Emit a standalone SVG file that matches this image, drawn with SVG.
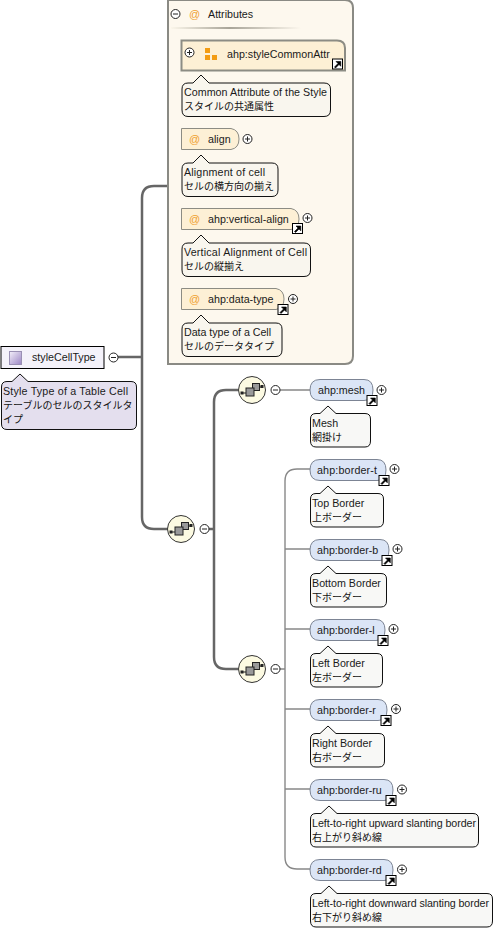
<svg xmlns="http://www.w3.org/2000/svg" width="500" height="931" viewBox="0 0 500 931">
<style>
text{font-family:"Liberation Sans","Noto Sans CJK JP",sans-serif;font-size:10.7px;fill:#1a1a1a}
text.j{font-size:10px;fill:#111}
.c{fill:#f8f8f6;stroke:#111;stroke-width:1}
.ca{fill:#f9f6ee;stroke:#111;stroke-width:1}
.at{fill:#fdf0d5;stroke:#8c8c84;stroke-width:1}
.el{fill:#dbe5f6;stroke:#7c8494;stroke-width:1}
.th{fill:none;stroke:#666;stroke-width:2.5}
.tn{fill:none;stroke:#888;stroke-width:1.4}
.ic{fill:#f39c12}
text.o{font-size:11px;fill:#f0a030}
</style>
<defs>
<linearGradient id="lg" x1="0" y1="0" x2="1" y2="1"><stop offset="0" stop-color="#f4f0fa"/><stop offset="1" stop-color="#9a85c4"/></linearGradient>
<linearGradient id="sep" x1="0" y1="0" x2="1" y2="0"><stop offset="0" stop-color="#fbf6ea"/><stop offset="0.45" stop-color="#a8a498"/><stop offset="1" stop-color="#fdf8ee"/></linearGradient>
<g id="plus"><circle r="4.500" fill="#fff" stroke="#222"/><path d="M-2.500 0H2.500M0 -2.500V2.500" stroke="#222" fill="none"/></g>
<g id="minus"><circle r="4.500" fill="#fff" stroke="#222"/><path d="M-2.500 0H2.500" stroke="#222" fill="none"/></g>
<g id="link"><rect x="0.500" y="0.500" width="10" height="10" fill="#fff" stroke="#000"/><path d="M2.500 8.500L6 5L4 3H8.800V7.800L7 6L3.500 9.500Z" fill="#000" stroke="#000" stroke-width="0.600"/></g>
<g id="seq"><circle r="13.500" fill="#fcfae2" stroke="#333" stroke-width="1"/><path d="M-11 3H-5M3 -3H11" stroke="#222"/><rect x="-11.500" y="1.500" width="3" height="3" fill="#222"/><rect x="8.500" y="-5" width="3" height="3" fill="#222"/><rect x="0.500" y="-6.500" width="7" height="7" fill="#999" stroke="#222"/><rect x="-6" y="-2" width="8" height="8" fill="#999" stroke="#222"/></g>
</defs>

<g id="connectors">
<path class="th" d="M118 357H142M167 186H154Q142 186 142 198V517Q142 529 154 529H168"/>
<path class="th" d="M209 529H213M238 390H226Q214 390 214 402V657Q214 669 226 669H238"/>
<path class="tn" d="M280 390H310M280 669H285M310 469H297Q285 469 285 481V857Q285 869 297 869H310M285 549H310M285 629H310M285 709H310M285 789H310"/>
</g>

<g id="attributes">
<path d="M168 0H345Q353 0 353 8V356Q353 364 345 364H168Z" fill="#fdf8ee" stroke="#8a8a84" stroke-width="2"/>
<use href="#minus" x="175.500" y="14"/>
<text class="o" x="189" y="18">@</text>
<text x="208" y="18">Attributes</text>
<rect x="171" y="27" width="130" height="2" fill="url(#sep)"/>
</g>

<g id="attr-styleCommonAttr">
<path d="M181.500 40.500H337Q345 40.500 345 48V70.500H181.500Z" fill="#fdf0d5" stroke="#8c8c84" stroke-width="2"/>
<use href="#plus" x="189.500" y="52.500"/>
<rect class="ic" x="205" y="48" width="5" height="5"/><rect class="ic" x="205" y="55" width="5" height="5"/><rect class="ic" x="212" y="55" width="5" height="5"/>
<text x="227" y="58">ahp:styleCommonAttr</text>
<use href="#link" x="332" y="58.500"/>
<path class="ca" d="M188 83H193L201 75L209 83H324Q330.500 83 330.500 89V110Q330.500 116.500 324 116.500H188Q182 116.500 182 110V89Q182 83 188 83Z"/>
<text x="184" y="96" textLength="143">Common Attribute of the Style</text>
<text class="j" x="184" y="110">スタイルの共通属性</text>
</g>

<g id="attr-align">
<path class="at" d="M181.500 128.500H231Q239 130 239 139Q239 148 231 149.500H181.500Z"/>
<text class="o" x="189" y="143">@</text>
<text x="208" y="143">align</text>
<use href="#plus" x="247.500" y="139"/>
<path class="ca" d="M188 163H193L201 155L209 163H272Q278 163 278 169V190Q278 196.500 272 196.500H188Q182 196.500 182 190V169Q182 163 188 163Z"/>
<text x="184" y="176" textLength="81">Alignment of cell</text>
<text class="j" x="184" y="190">セルの横方向の揃え</text>
</g>

<g id="attr-vertical-align">
<path class="at" d="M181.500 208.500H291Q299 210 299 219Q299 228 291 229.500H181.500Z"/>
<text class="o" x="189" y="223">@</text>
<text x="208" y="223">ahp:vertical-align</text>
<use href="#link" x="292" y="223"/>
<use href="#plus" x="307.500" y="218"/>
<path class="ca" d="M188 243H193L201 235L209 243H304Q310.500 243 310.500 249V270Q310.500 276.500 304 276.500H188Q182 276.500 182 270V249Q182 243 188 243Z"/>
<text x="184" y="256" textLength="123">Vertical Alignment of Cell</text>
<text class="j" x="184" y="270">セルの縦揃え</text>
</g>

<g id="attr-data-type">
<path class="at" d="M181.500 288.500H276Q284 290 284 299Q284 308 276 309.500H181.500Z"/>
<text class="o" x="189" y="303">@</text>
<text x="208" y="303">ahp:data-type</text>
<use href="#link" x="277.500" y="304"/>
<use href="#plus" x="293" y="299"/>
<path class="ca" d="M188 323H193L201 315L209 323H276Q282 323 282 329V350Q282 356.500 276 356.500H188Q182 356.500 182 350V329Q182 323 188 323Z"/>
<text x="184" y="336" textLength="87">Data type of a Cell</text>
<text class="j" x="184" y="350">セルのデータタイプ</text>
</g>

<g id="styleCellType">
<rect x="1" y="346.500" width="103" height="22" fill="#f4f2fa" stroke="#000"/>
<rect x="9.500" y="351.500" width="12" height="13" fill="url(#lg)" stroke="#9a90b4"/>
<text x="32" y="361">styleCellType</text>
<use href="#minus" x="113.500" y="357.500"/>
<path d="M7 381.500H12L20 374L28 381.500H131Q136.500 381.500 136.500 387V424Q136.500 429.500 131 429.500H7Q1.500 429.500 1.500 424V387Q1.500 381.500 7 381.500Z" fill="#e4dfee" stroke="#111"/>
<text x="3" y="395" textLength="125">Style Type of a Table Cell</text>
<text class="j" x="3" y="409">テーブルのセルのスタイルタ</text>
<text class="j" x="3" y="423">イプ</text>
</g>

<g id="seq-root"><use href="#seq" x="181" y="529"/><use href="#minus" x="204.500" y="529"/></g>
<g id="seq-mesh"><use href="#seq" x="252" y="390"/><use href="#minus" x="275.500" y="390"/></g>
<g id="seq-borders"><use href="#seq" x="252" y="669"/><use href="#minus" x="275.500" y="669"/></g>

<g id="mesh">
<path class="el" d="M320 379.500H364Q373 379.500 373 390Q373 400.500 364 400.500H320Q310 400.500 310 390Q310 379.500 320 379.500Z"/>
<text x="318" y="394">ahp:mesh</text>
<use href="#link" x="366.500" y="395"/>
<use href="#plus" x="381.500" y="390"/>
<path class="c" d="M316 413.500H320L328 406L336 413.500H365Q370.500 413.500 370.500 419V441Q370.500 447 365 447H316Q310.500 447 310.500 441V419Q310.500 413.500 316 413.500Z"/>
<text x="312" y="427">Mesh</text>
<text class="j" x="312" y="441">網掛け</text>
</g>

<g id="border-t">
<path class="el" d="M320 459.500H377Q386 459.500 386 470Q386 480.500 377 480.500H320Q310 480.500 310 470Q310 459.500 320 459.500Z"/>
<text x="317" y="474" textLength="60">ahp:border-t</text>
<use href="#link" x="378.500" y="475"/>
<use href="#plus" x="394.500" y="469"/>
<path class="c" d="M316 493.500H320L328 486L336 493.500H378Q383.500 493.500 383.500 499V521Q383.500 527 378 527H316Q310.500 527 310.500 521V499Q310.500 493.500 316 493.500Z"/>
<text x="312" y="507">Top Border</text>
<text class="j" x="312" y="521">上ボーダー</text>
</g>

<g id="border-b">
<path class="el" d="M320 539.500H380Q389 539.500 389 550Q389 560.500 380 560.500H320Q310 560.500 310 550Q310 539.500 320 539.500Z"/>
<text x="317" y="554">ahp:border-b</text>
<use href="#link" x="381.500" y="555"/>
<use href="#plus" x="397.500" y="549"/>
<path class="c" d="M316 573.500H320L328 566L336 573.500H381Q386.500 573.500 386.500 579V601Q386.500 607 381 607H316Q310.500 607 310.500 601V579Q310.500 573.500 316 573.500Z"/>
<text x="312" y="587">Bottom Border</text>
<text class="j" x="312" y="601">下ボーダー</text>
</g>

<g id="border-l">
<path class="el" d="M320 619.500H376Q385 619.500 385 630Q385 640.500 376 640.500H320Q310 640.500 310 630Q310 619.500 320 619.500Z"/>
<text x="317" y="634">ahp:border-l</text>
<use href="#link" x="377.500" y="635"/>
<use href="#plus" x="393.500" y="629"/>
<path class="c" d="M316 653.500H320L328 646L336 653.500H377Q382.500 653.500 382.500 659V681Q382.500 687 377 687H316Q310.500 687 310.500 681V659Q310.500 653.500 316 653.500Z"/>
<text x="312" y="667">Left Border</text>
<text class="j" x="312" y="681">左ボーダー</text>
</g>

<g id="border-r">
<path class="el" d="M320 699.500H378Q387 699.500 387 710Q387 720.500 378 720.500H320Q310 720.500 310 710Q310 699.500 320 699.500Z"/>
<text x="317" y="714">ahp:border-r</text>
<use href="#link" x="380.500" y="715"/>
<use href="#plus" x="396" y="709"/>
<path class="c" d="M316 733.500H320L328 726L336 733.500H379Q384.500 733.500 384.500 739V761Q384.500 767 379 767H316Q310.500 767 310.500 761V739Q310.500 733.500 316 733.500Z"/>
<text x="312" y="747">Right Border</text>
<text class="j" x="312" y="761">右ボーダー</text>
</g>

<g id="border-ru">
<path class="el" d="M320 779.500H384Q393 779.500 393 790Q393 800.500 384 800.500H320Q310 800.500 310 790Q310 779.500 320 779.500Z"/>
<text x="317" y="794">ahp:border-ru</text>
<use href="#link" x="385.500" y="795"/>
<use href="#plus" x="402" y="789.500"/>
<path class="c" d="M316 813.500H321L329 806L337 813.500H473Q478.500 813.500 478.500 819V841Q478.500 847 473 847H316Q310.500 847 310.500 841V819Q310.500 813.500 316 813.500Z"/>
<text x="312" y="827" textLength="164">Left-to-right upward slanting border</text>
<text class="j" x="312" y="841">右上がり斜め線</text>
</g>

<g id="border-rd">
<path class="el" d="M320 859.500H384Q393 859.500 393 870Q393 880.500 384 880.500H320Q310 880.500 310 870Q310 859.500 320 859.500Z"/>
<text x="317" y="874">ahp:border-rd</text>
<use href="#link" x="385.500" y="875"/>
<use href="#plus" x="402" y="869.500"/>
<path class="c" d="M316 893.500H321L329 886L337 893.500H487Q492.500 893.500 492.500 899V921Q492.500 927 487 927H316Q310.500 927 310.500 921V899Q310.500 893.500 316 893.500Z"/>
<text x="312" y="907" textLength="177">Left-to-right downward slanting border</text>
<text class="j" x="312" y="921">右下がり斜め線</text>
</g>
</svg>
